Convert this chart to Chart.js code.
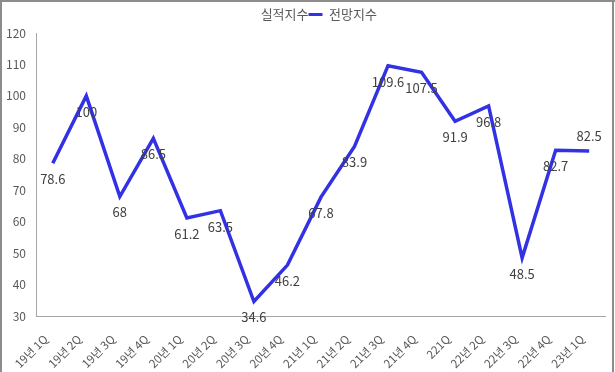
<!DOCTYPE html>
<html>
<head>
<meta charset="utf-8">
<script src="https://cdn.jsdelivr.net/npm/chart.js@4"></script>
<style>
  html, body { margin: 0; padding: 0; background: #fff; }
  #wrap { width: 615px; height: 372px; position: relative; }
</style>
</head>
<body>
<div id="wrap"><canvas id="chart" width="615" height="372"></canvas></div>
<script>
// quarters on the x axis
const quarters = ['19년 1Q', '19년 2Q', '19년 3Q', '19년 4Q', '20년 1Q', '20년 2Q', '20년 3Q', '20년 4Q',
  '21년 1Q', '21년 2Q', '21년 3Q', '21년 4Q', '221Q', '22년 2Q', '22년 3Q', '22년 4Q', '23년 1Q'];

// series
const actualIndex = [];   // 실적지수: no marks drawn in the picture
const outlookIndex = [78.6, 100, 68, 86.5, 61.2, 63.5, 34.6, 46.2, 67.8, 83.9, 109.6, 107.5, 91.9, 96.8, 48.5, 82.7, 82.5];

// y ticks
const yMin = 30, yMax = 120, yStep = 10;

// where each value label sits relative to its point
const labelSide = ['below', 'below', 'below', 'below', 'below', 'below', 'below', 'below',
  'below', 'below', 'below', 'below', 'below', 'below', 'below', 'below', 'above'];

const FONT = "'Noto Sans CJK KR', 'Noto Sans', sans-serif";
const BLUE = '#3232e4';

// --- value labels (no datalabels plugin available) ---
const valueLabels = {
  id: 'valueLabels',
  afterDatasetsDraw(chart) {
    const ctx = chart.ctx;
    const meta = chart.getDatasetMeta(1);
    ctx.save();
    ctx.font = '13px ' + FONT;
    ctx.fillStyle = '#404040';
    ctx.textAlign = 'center';
    ctx.textBaseline = 'middle';
    meta.data.forEach((pt, i) => {
      const dy = labelSide[i] === 'above' ? -15 : 16;
      ctx.fillText(String(outlookIndex[i]), pt.x, pt.y + dy);
    });
    ctx.restore();
  }
};

// --- empty box between legend and plot, so the legend can keep tight spacing ---
const legendGap = {
  id: 'legendGap',
  beforeInit(chart) {
    Chart.layouts.addBox(chart, {
      position: 'top', weight: 500, fullSize: true,
      options: { stackWeight: 1 },
      top: 0, left: 0, right: 0, bottom: 0, width: 0, height: 0,
      update(maxWidth) { this.width = maxWidth; this.height = 2; },
      isHorizontal() { return true; },
      getPadding() { return { top: 0, left: 0, right: 0, bottom: 0 }; },
      draw() {}
    });
  }
};

// --- outer frame (top, left, right) ---
const frame = {
  id: 'frame',
  afterDraw(chart) {
    const ctx = chart.ctx;
    ctx.save();
    ctx.fillStyle = '#8c8c8c';
    ctx.fillRect(0, 0, 615, 2);
    ctx.fillRect(0, 0, 2, 372);
    ctx.fillRect(612, 0, 2, 372);
    ctx.restore();
  }
};

new Chart(document.getElementById('chart'), {
  type: 'line',
  data: {
    labels: quarters,
    datasets: [
      { label: '실적지수', data: actualIndex, borderColor: 'rgba(0,0,0,0)', backgroundColor: 'rgba(0,0,0,0)' },
      { label: '전망지수', data: outlookIndex, borderColor: BLUE, backgroundColor: BLUE,
        borderWidth: 3.5, pointRadius: 0, tension: 0, fill: false }
    ]
  },
  options: {
    responsive: false,
    animation: false,
    layout: { padding: { top: 8, left: 4, right: 2, bottom: 0 } },
    plugins: {
      legend: {
        position: 'top',
        labels: {
          font: { size: 13, family: FONT },
          color: '#595959',
          boxWidth: 14,
          boxHeight: 3,
          padding: 0,
          generateLabels(chart) {
            return chart.data.datasets.map((ds, i) => ({
              text: ds.label,
              fillStyle: i === 1 ? BLUE : 'rgba(0,0,0,0)',
              strokeStyle: 'rgba(0,0,0,0)',
              lineWidth: 0,
              fontColor: '#595959',
              datasetIndex: i
            }));
          }
        }
      },
      tooltip: { enabled: false }
    },
    scales: {
      x: {
        offset: true,
        grid: { display: false, drawTicks: false },
        border: { display: true, color: '#a6a6a6', width: 1 },
        ticks: {
          autoSkip: false, maxRotation: 45, minRotation: 45,
          font: { size: 11.5, family: FONT }, color: '#595959', padding: 16, labelOffset: -7
        },
        afterFit(scale) { scale.height = 56; }
      },
      y: {
        min: yMin, max: yMax,
        grid: { display: false, drawTicks: false },
        border: { display: true, color: '#a6a6a6', width: 1 },
        ticks: { stepSize: yStep, font: { size: 12, family: FONT }, color: '#595959', padding: 10 },
        afterFit(scale) { scale.width = 32; }
      }
    }
  },
  plugins: [valueLabels, legendGap, frame]
});
</script>
</body>
</html>
